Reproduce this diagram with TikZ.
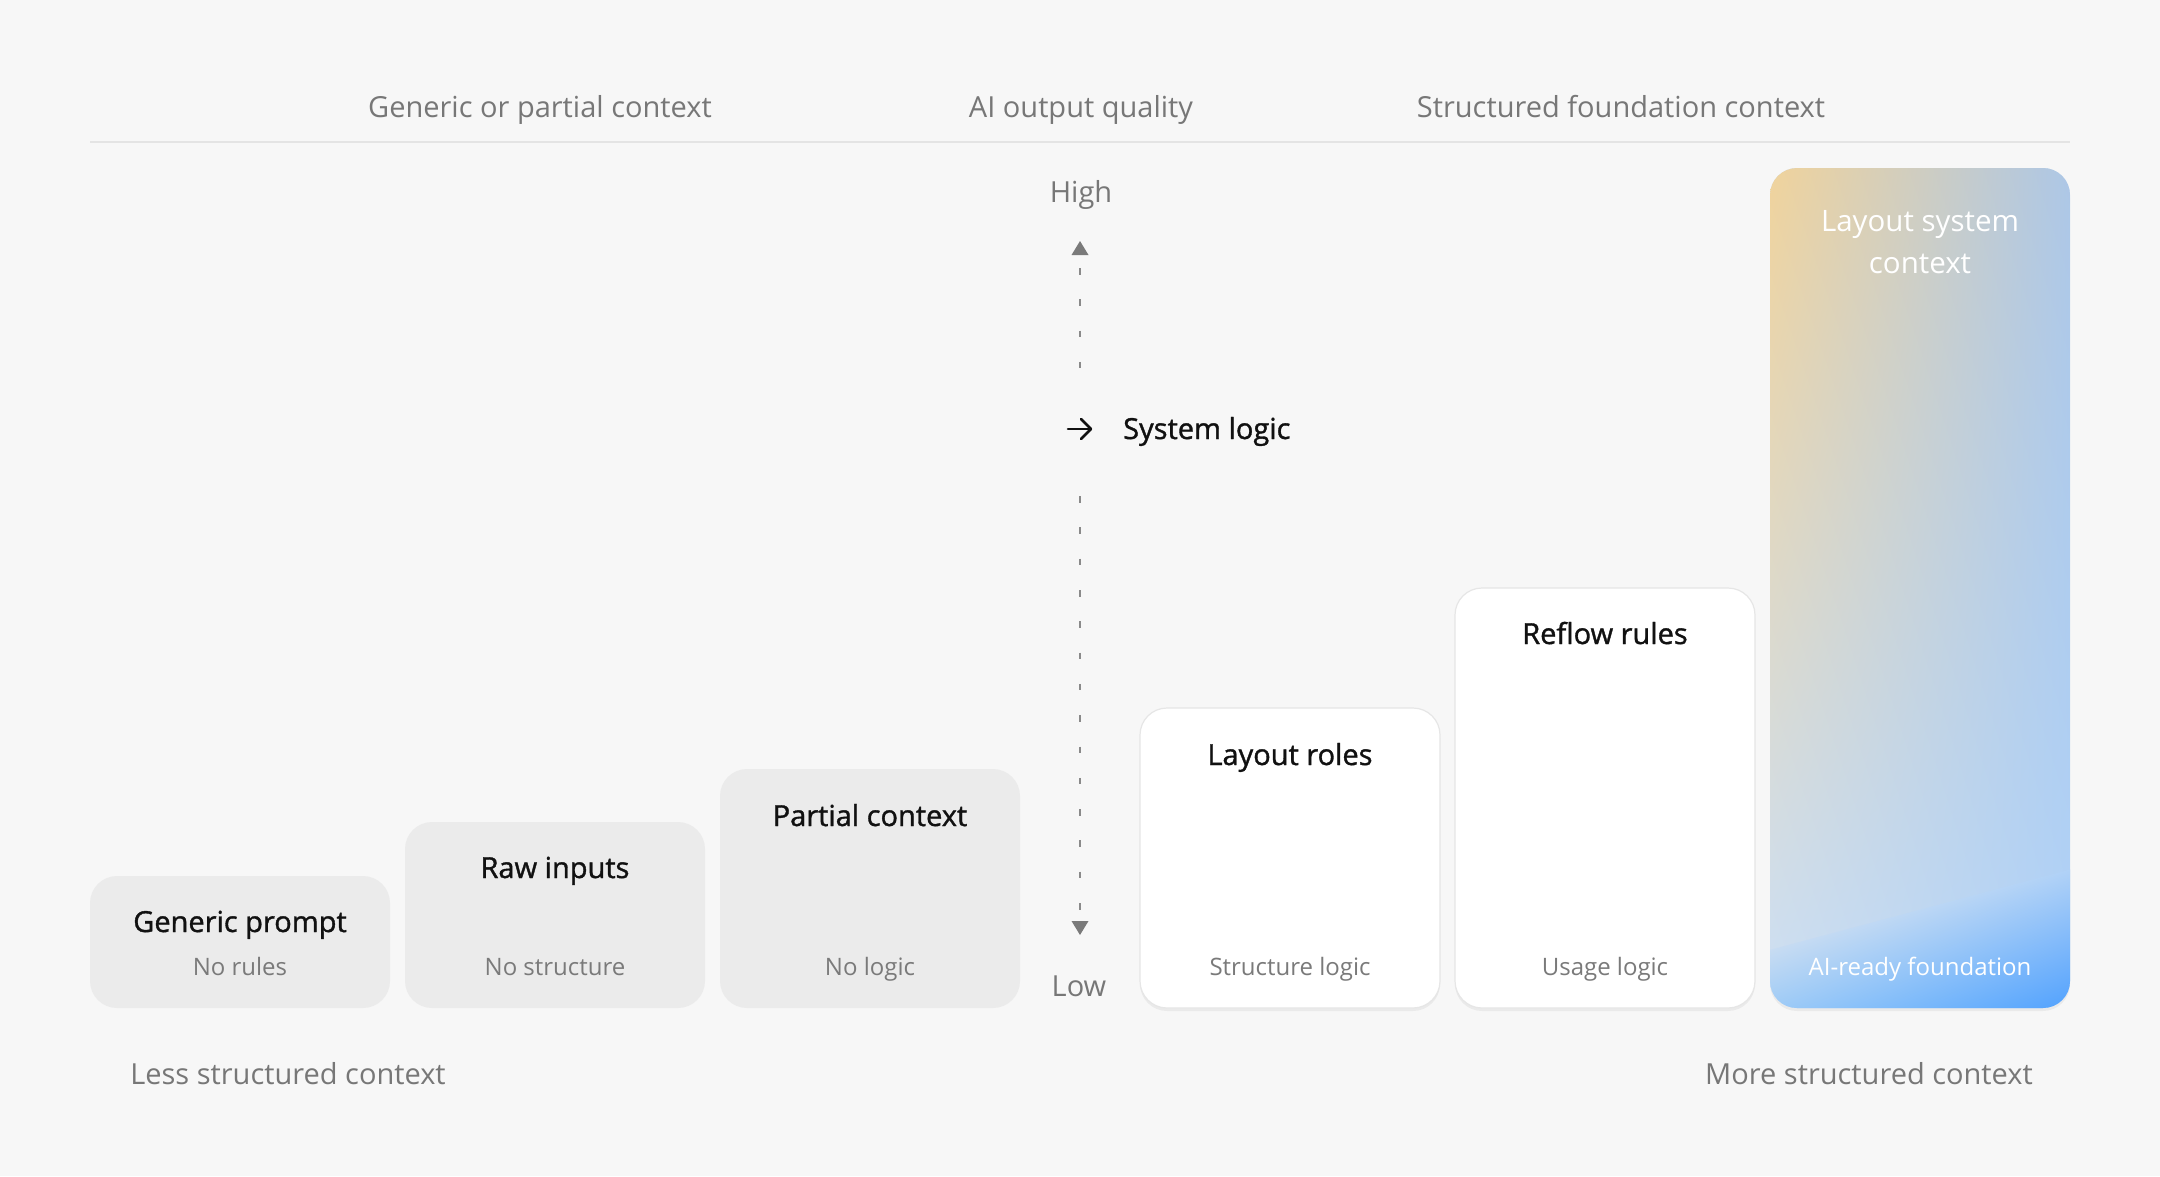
\documentclass[tikz,border=0pt]{standalone}
\usepackage{fontspec}
\setmainfont{Open Sans}
\newfontfamily\medfont[FakeBold=1.2]{Open Sans}
\usetikzlibrary{shadows,calc,shadings}
\definecolor{bg}{HTML}{F7F7F7}
\definecolor{linec}{HTML}{E4E4E4}
\definecolor{grayc}{HTML}{EBEBEB}
\definecolor{titlec}{HTML}{111111}
\definecolor{subc}{HTML}{7A7A7A}
\definecolor{headc}{HTML}{777777}
\definecolor{axisc}{HTML}{8A8A8A}
\definecolor{triC}{HTML}{7A7A7A}
\definecolor{borderc}{HTML}{E6E6E6}
\definecolor{gUL}{HTML}{F0D39C}
\definecolor{gUR}{HTML}{ADC7E6}
\definecolor{gLL}{HTML}{CBDFF6}
\definecolor{gLR}{HTML}{B0D2F8}
\definecolor{bandUL}{RGB}{204,222,241}
\definecolor{bandUR}{RGB}{175,209,247}
\definecolor{bandLL}{RGB}{88,176,255}
\definecolor{bandLR}{RGB}{62,150,255}
\tikzset{
  boxbase/.style={anchor=north west, rounded corners=27pt, minimum width=300pt, inner sep=0pt, outer sep=0pt},
  graybox/.style={boxbase, fill=grayc},
  whitebox/.style={boxbase, fill=white, draw=borderc, line width=1.2pt,
     drop shadow={shadow xshift=0pt, shadow yshift=-3pt, opacity=0.05, fill=black}},
  titletxt/.style={font=\medfont\fontsize{29}{35}\selectfont, text=titlec, anchor=base, inner sep=0pt},
  subtxt/.style={font=\fontsize{24}{29}\selectfont, text=subc, anchor=base, inner sep=0pt},
  headtxt/.style={font=\fontsize{29}{35}\selectfont, text=headc, anchor=base, inner sep=0pt},
  axisdash/.style={draw=axisc, line width=2.8pt, dash pattern=on 6.5pt off 24.8pt},
  tri/.style={fill=triC},
}
\begin{document}
\begin{tikzpicture}[x=1pt,y=-1pt]
\fill[bg] (0,0) rectangle (2160,1176);
\useasboundingbox (0,0) rectangle (2160,1176);

% header
\coordinate (hl) at (90,142);
\coordinate (hr) at (2070,142);
\draw[linec, line width=2pt] (hl) -- (hr);
\node[headtxt] (h1) at (540,117) {Generic or partial context};
\node[headtxt] (h2) at (1081,117) {AI output quality};
\node[headtxt] (h3) at (1621,117) {Structured foundation context};

% boxes
\node[graybox, minimum height=132pt] (b1) at (90,876) {};
\node[graybox, minimum height=186pt] (b2) at (405,822) {};
\node[graybox, minimum height=239pt] (b3) at (720,769) {};
\node[whitebox, minimum height=300pt] (b4) at (1140,708) {};
\node[whitebox, minimum height=420pt] (b5) at (1455,588) {};
\node[boxbase, minimum height=840pt, fill=gLL,
  drop shadow={shadow xshift=0pt, shadow yshift=-3pt, opacity=0.05, fill=black}] (b6) at (1770,168) {};
\begin{scope}
  \clip[rounded corners=27pt] (b6.north west) rectangle (b6.south east);
  \shade[upper left=gUL, upper right=gUR, lower left=gLL, lower right=gLR]
    (b6.north west) rectangle (b6.south east);
  \shade[transform canvas={shift={(1920,1008)}, rotate=15},
         upper left=bandUL, upper right=bandUR, lower left=bandLL, lower right=bandLR]
    (-200,-95) rectangle (200,62);
\end{scope}

% titles
\node[titletxt] (t1) at ($(b1.north)+(0,56)$) {Generic prompt};
\node[titletxt] (t2) at ($(b2.north)+(0,56)$) {Raw inputs};
\node[titletxt] (t3) at ($(b3.north)+(0,57)$) {Partial context};
\node[titletxt] (t4) at ($(b4.north)+(0,57)$) {Layout roles};
\node[titletxt] (t5) at ($(b5.north)+(0,56)$) {Reflow rules};
\node[font=\fontsize{29.5}{35}\selectfont, anchor=base, inner sep=0pt, text=white] (t6a) at ($(b6.north)+(0,63)$) {Layout system};
\node[font=\fontsize{29.5}{35}\selectfont, anchor=base, inner sep=0pt, text=white] (t6b) at ($(b6.north)+(0,105)$) {context};

% subtitles
\node[subtxt] (s1) at (240,975) {No rules};
\node[subtxt] (s2) at (555,975) {No structure};
\node[subtxt] (s3) at (870,975) {No logic};
\node[subtxt] (s4) at (1290,975) {Structure logic};
\node[subtxt] (s5) at (1605,975) {Usage logic};
\node[subtxt, text=white] (s6) at (1920,975) {AI-ready foundation};

% axis
\node[headtxt] (high) at (1081,202) {High};
\node[headtxt] (low) at (1079,996) {Low};
\node[font=\medfont\fontsize{29}{35}\selectfont, text=titlec, anchor=base west, inner sep=0pt] (sys) at (1123,439) {System logic};
\coordinate (u1) at (1080,268);
\coordinate (u2) at (1080,370);
\coordinate (d1) at (1080,496.1);
\coordinate (d2) at (1080,911);
\draw[axisdash] (u1) -- (u2);
\draw[axisdash] (d1) -- (d2);
\fill[tri] (1080,241) -- (1088.5,255) -- (1071.5,255) -- cycle;
\fill[tri] (1071.5,921) -- (1088.5,921) -- (1080,935) -- cycle;
\coordinate (a1) at (1068,429);
\coordinate (a2) at (1091,429);
\draw[titlec, line width=2.6pt, line cap=round, line join=round] (a1) -- (a2);
\draw[titlec, line width=2.6pt, line cap=round, line join=round] (1081,419) -- (a2) -- (1081,439);

% bottom labels
\node[headtxt] (lessl) at (288,1084) {Less structured context};
\node[headtxt] (morel) at (1869,1084) {More structured context};
\end{tikzpicture}
\end{document}
